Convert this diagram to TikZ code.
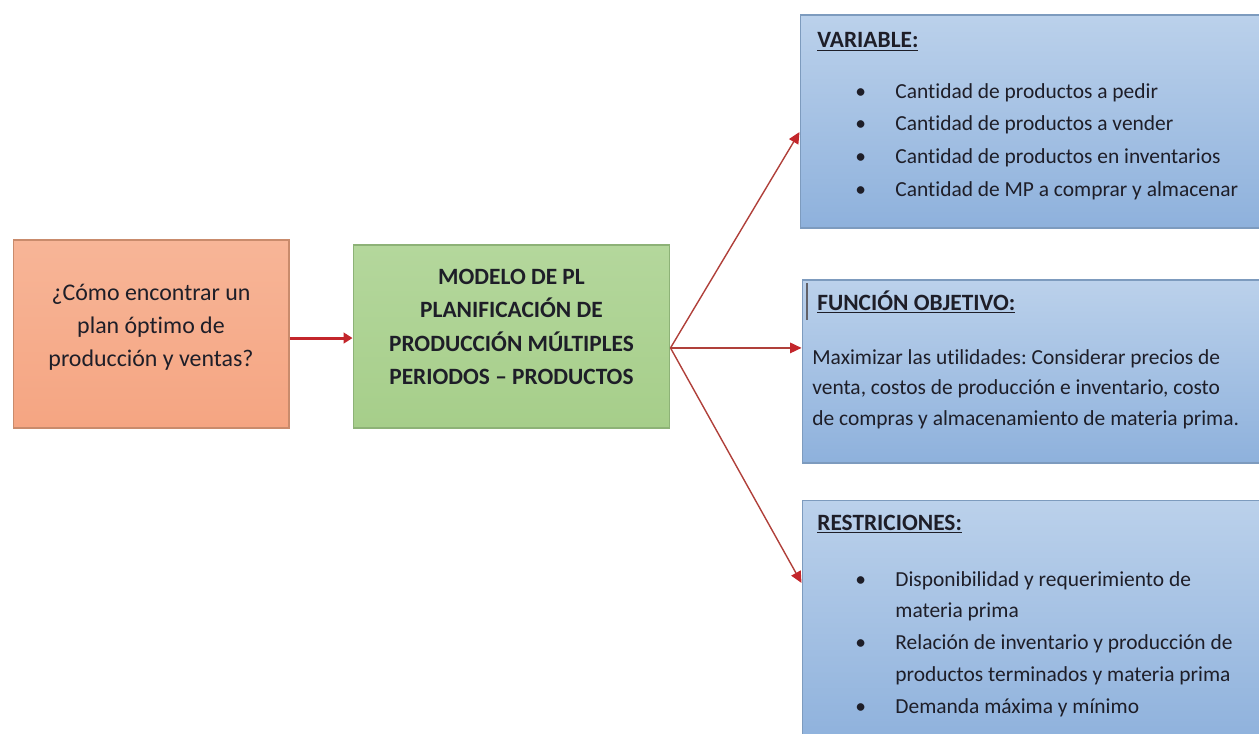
\documentclass[tikz,border=0pt]{standalone}
\usepackage{fontspec}
\setmainfont{Carlito}[Ligatures=NoCommon]
\usetikzlibrary{arrows.meta}

\definecolor{naranja}{HTML}{F5A582}
\definecolor{naranjaclaro}{HTML}{F7B597}
\definecolor{naranjaborde}{HTML}{C98B6C}
\definecolor{verde}{HTML}{A6CE8A}
\definecolor{verdeclaro}{HTML}{B4D79C}
\definecolor{verdeborde}{HTML}{8DB277}
\definecolor{azularriba}{HTML}{BBD1EB}
\definecolor{azulabajo}{HTML}{8EB1DC}
\definecolor{azulborde}{HTML}{7D9BBE}
\definecolor{rojo}{HTML}{C3262B}
\definecolor{rojolinea}{HTML}{B0403A}
\definecolor{texto}{HTML}{1E1E28}
\frenchspacing

\begin{document}
\begin{tikzpicture}[x=0.02cm,y=-0.02cm,
	every node/.style={inner sep=0pt,text=texto},
	caja/.style={draw,line width=0.6pt},
	naranjacaja/.style={caja,draw=naranjaborde,top color=naranjaclaro,bottom color=naranja},
	verdecaja/.style={caja,draw=verdeborde,top color=verdeclaro,bottom color=verde},
	azulcaja/.style={caja,draw=azulborde,top color=azularriba,bottom color=azulabajo},
	titulo/.style={anchor=base west,font=\fontsize{13.3}{16}\selectfont\bfseries},
	cuerpo/.style={anchor=base west,font=\fontsize{12.2}{18.7}\selectfont},
	flecha/.style={draw=rojolinea,line width=0.8pt,-{Triangle[length=6.5pt,width=6pt,fill=rojo,color=rojo]}},
	flechagruesa/.style={draw=rojo,line width=1.7pt,-{Triangle[length=5pt,width=6pt]}}]
	\useasboundingbox (0,0) rectangle (1259,734);
	\clip (0,0) rectangle (1259,734);
	\node [naranjacaja,minimum width=5.52cm,minimum height=3.76cm] (pregunta) at (151,334) {};
	\node [verdecaja,minimum width=6.34cm,minimum height=3.66cm] (modelo) at (511.5,336.5) {};
	\node [azulcaja,minimum width=9.4cm,minimum height=4.26cm] (variable) at (1035,121.5) {};
	\node [azulcaja,minimum width=9.36cm,minimum height=3.66cm] (funcion) at (1036,371.5) {};
	\node [azulcaja,minimum width=9.36cm,minimum height=4.9cm] (restric) at (1036,622.5) {};
	\node [align=center,font=\fontsize{13.6}{18.7}\selectfont] (preguntatxt) at (151,327) {¿Cómo encontrar un\\plan óptimo de\\producción y ventas?};
	\node [align=center,font=\fontsize{13.3}{18.9}\selectfont\bfseries] (modelotxt) at (511.5,327) {MODELO DE PL\\PLANIFICACIÓN DE\\PRODUCCIÓN MÚLTIPLES\\PERIODOS – PRODUCTOS};
	\node [titulo] (variabletit) at (817,47.5) {\underline{VARIABLE:}};
	\node [cuerpo] (variabletxt) at (855,98) {\begin{tabular}[t]{@{}p{22.8pt}@{}l@{}}
		\textbullet & Cantidad de productos a pedir\\
		\textbullet & Cantidad de productos a vender\\
		\textbullet & Cantidad de productos en inventarios\\
		\textbullet & Cantidad de MP a comprar y almacenar
	\end{tabular}};
	\draw [line width=0.8pt,color=texto!70] (807,283) -- (807,320);
	\node [titulo] (funciontit) at (817,310) {\underline{FUNCIÓN OBJETIVO:}};
	\node [cuerpo,font=\fontsize{12.2}{17.5}\selectfont] (funciontxt) at (812,364) {\begin{tabular}[t]{@{}l@{}}
		Maximizar las utilidades: Considerar precios de\\
		venta, costos de producción e inventario, costo\\
		de compras y almacenamiento de materia prima.
	\end{tabular}};
	\node [titulo] (restrictit) at (817,530) {\underline{RESTRICIONES:}};
	\node [cuerpo,font=\fontsize{12.2}{18.2}\selectfont] (restrictxt) at (855,586) {\begin{tabular}[t]{@{}p{22.8pt}@{}l@{}}
		\textbullet & Disponibilidad y requerimiento de\\
		& materia prima\\
		\textbullet & Relación de inventario y producción de\\
		& productos terminados y materia prima\\
		\textbullet & Demanda máxima y mínimo
	\end{tabular}};
	\coordinate (entrada) at ([yshift=-2.3pt]pregunta.east);
	\coordinate (salida) at ([yshift=-6.5pt]modelo.east);
	\draw [flechagruesa] (entrada) -- (entrada -| modelo.west);
	\draw [flecha] (salida) -- ([yshift=-6pt]variable.west);
	\draw [flecha] (salida) -- (salida -| funcion.west);
	\draw [flecha] (salida) -- ([yshift=22.5pt]restric.west);
\end{tikzpicture}
\end{document}
